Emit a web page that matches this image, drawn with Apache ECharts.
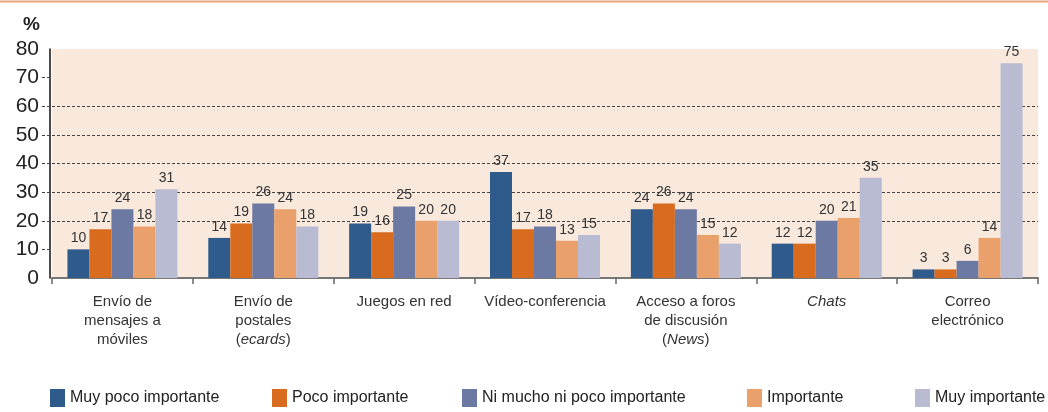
<!DOCTYPE html>
<html>
<head>
<meta charset="utf-8">
<script src="https://cdn.jsdelivr.net/npm/echarts@6/dist/echarts.min.js"></script>
<style>
	html, body { margin: 0; padding: 0; background: #fff; }
	#main { width: 1048px; height: 412px; }
</style>
</head>
<body>
<div id="main"></div>
<script>
// datos del gráfico
const categorias = [
	'Envío de\nmensajes a\nmóviles',
	'Envío de\npostales\n({i|ecards})',
	'Juegos en red',
	'Vídeo-conferencia',
	'Acceso a foros\nde discusión\n({i|News})',
	'{i|Chats}',
	'Correo\nelectrónico'
];
const seriesNombres = ['Muy poco importante', 'Poco importante', 'Ni mucho ni poco importante', 'Importante', 'Muy importante'];
const muyPoco = [10, 14, 19, 37, 24, 12, 3];
const poco = [17, 19, 16, 17, 26, 12, 3];
const niMuchoNiPoco = [24, 26, 25, 18, 24, 20, 6];
const importante = [18, 24, 20, 13, 15, 21, 14];
const muyImportante = [31, 18, 20, 15, 12, 35, 75];
const yTicks = [0, 10, 20, 30, 40, 50, 60, 70, 80];

const colores = ['#2f5a8c', '#d96b1e', '#6c7aa3', '#e9a06a', '#b8bbd1'];
const valores = [muyPoco, poco, niMuchoNiPoco, importante, muyImportante];
const legendLeft = [50, 272, 462, 747, 915];

const chart = echarts.init(document.getElementById('main'));

let series = seriesNombres.map(function(nombre, i) {
	return {
		name: nombre,
		type: 'bar',
		barWidth: 22,
		barGap: '0%',
		itemStyle: { color: colores[i] },
		label: {
			show: true,
			position: 'top',
			distance: 4,
			fontFamily: 'Liberation Sans, Arial',
			fontSize: 14,
			color: '#333'
		},
		data: valores[i]
	};
});

let legends = seriesNombres.map(function(nombre, i) {
	return {
		data: [nombre],
		left: legendLeft[i],
		top: 389,
		padding: 0,
		icon: 'rect',
		itemWidth: 15,
		itemHeight: 18,
		itemGap: 8,
		textStyle: {
			fontFamily: 'Liberation Sans, Arial',
			fontSize: 16,
			color: '#222'
		}
	};
});

let option = {
	backgroundColor: '#fff',
	animation: false,
	title: {
		text: '%',
		left: 18,
		top: 10,
		textStyle: {
			fontFamily: 'Liberation Sans, Arial',
			fontWeight: 'bold',
			fontSize: 19,
			color: '#222'
		}
	},
	graphic: [{
		type: 'line',
		shape: { x1: 0, y1: 1.5, x2: 1048, y2: 1.5 },
		style: { stroke: '#e9a47c', lineWidth: 2 }
	}],
	legend: legends,
	grid: {
		left: 52,
		right: 10,
		top: 49,
		bottom: 134,
		show: true,
		backgroundColor: '#f9e8dc',
		borderWidth: 0
	},
	xAxis: {
		type: 'category',
		data: categorias,
		axisLine: { lineStyle: { color: '#777', width: 2 } },
		axisTick: { show: true, length: 6, lineStyle: { color: '#666', width: 1.5 } },
		axisLabel: {
			interval: 0,
			margin: 14,
			fontFamily: 'Liberation Sans, Arial',
			fontSize: 15,
			lineHeight: 19,
			color: '#333',
			rich: {
				i: {
					fontStyle: 'italic',
					fontFamily: 'Liberation Sans, Arial',
					fontSize: 15,
					lineHeight: 19,
					color: '#333'
				}
			}
		}
	},
	yAxis: {
		type: 'value',
		min: yTicks[0],
		max: yTicks[yTicks.length - 1],
		interval: 10,
		offset: 2,
		axisLine: { show: true, lineStyle: { color: '#111', width: 1.5 } },
		axisTick: {
			show: true,
			length: 8,
			customValues: yTicks.slice(1, -1),
			lineStyle: { color: '#444', type: [3, 2] }
		},
		axisLabel: {
			margin: 11,
			fontFamily: 'Liberation Sans, Arial',
			fontSize: 21,
			color: '#222'
		},
		splitLine: {
			show: true,
			showMinLine: false,
			showMaxLine: false,
			lineStyle: { color: '#444', type: [3, 2], width: 1 }
		}
	},
	series: series
};
chart.setOption(option);
</script>
</body>
</html>
